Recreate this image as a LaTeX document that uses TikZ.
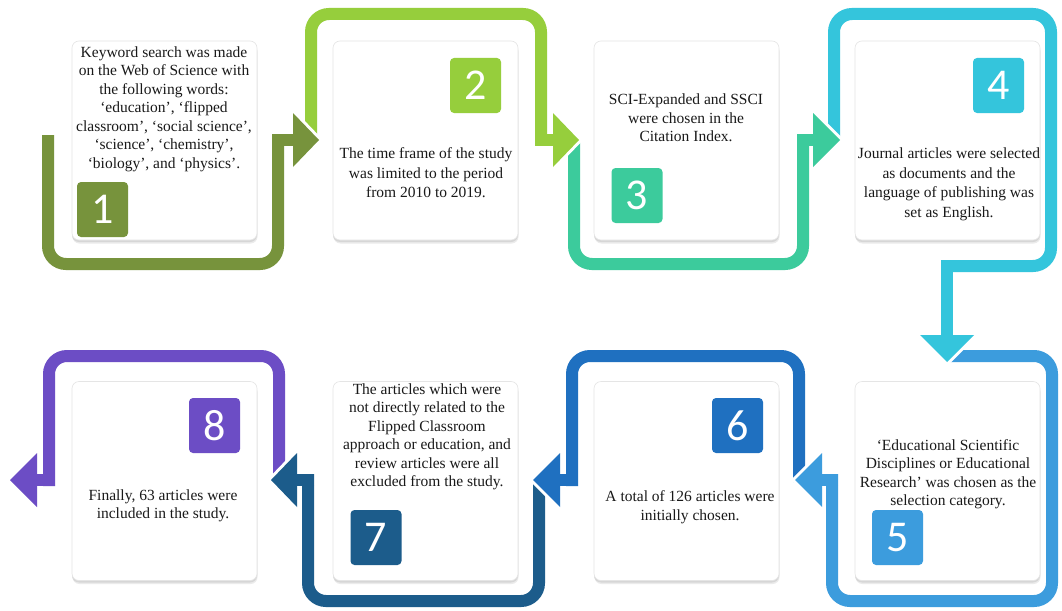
\documentclass[tikz,border=0pt]{standalone}
\usepackage{fontspec}
\setmainfont{Liberation Serif}
\newfontfamily\numfont{Carlito}

% step colours
\definecolor{c1}{HTML}{77933C}
\definecolor{c2}{HTML}{96CE3C}
\definecolor{c3}{HTML}{3CCB9C}
\definecolor{c4}{HTML}{34C5DC}
\definecolor{c5}{HTML}{3C9CDD}
\definecolor{c6}{HTML}{1F70C0}
\definecolor{c7}{HTML}{1C5C8B}
\definecolor{c8}{HTML}{6C4DC5}

\tikzset{
  card/.style={draw=black!10, line width=0.6pt, fill=white, rounded corners=7pt,
    minimum width=185pt, minimum height=199pt, inner sep=0pt,
    preaction={fill=black!8, transform canvas={xshift=0.5pt, yshift=-3.5pt}},
    preaction={fill=black!16, transform canvas={yshift=-2pt}}},
  numbox/.style={rounded corners=4pt, minimum width=51pt, minimum height=55pt,
    inner sep=0pt, text=white, font=\numfont\fontsize{44}{44}\selectfont},
  txt/.style={align=center, text=black!90, inner sep=0pt,
    font=\fontsize{15.5}{18.5}\selectfont},
  txtwide/.style={txt, font=\fontsize{15.5}{19.5}\selectfont},
  bar/.style={line width=12pt},
}

% one bent arrow: colour, loop path, stem path, head outline
\newcommand\flowarrow[4]{%
  \draw[white, line width=6pt, line join=round] #4 -- cycle;
  \draw[bar, #1, rounded corners=18pt] #2;
  \draw[bar, #1] #3;
  \fill[#1] #4 -- cycle;
}

\begin{document}
\begin{tikzpicture}[x=1pt, y=-1pt]
\useasboundingbox (0,0) rectangle (1062,610);
\fill[white] (0,0) rectangle (1062,610);

% arrows, last step first so every head sits over the next loop
\flowarrow{c8}{(279,482) -- (279,356) -- (49,356) -- (49,486)}{(55,480) -- (35,480)}{(37,453) -- (10,480) -- (37,507)}
\flowarrow{c7}{(539,482) -- (539,601) -- (308,601) -- (308,474)}{(314,480) -- (295,480)}{(297,453) -- (271,480) -- (297,507)}
\flowarrow{c6}{(799,482) -- (799,356) -- (572,356) -- (572,486)}{(578,480) -- (558,480)}{(560,453) -- (533,480) -- (560,507)}
\flowarrow{c5}{(950,356) -- (1052,356) -- (1052,601) -- (832,601) -- (832,474)}{(838,480) -- (820,480)}{(822,453) -- (795,480) -- (822,507)}
\flowarrow{c4}{(834,140) -- (834,14) -- (1051,14) -- (1051,266) -- (941,266)}{(947,260) -- (947,337)}{(920,335) -- (947,362) -- (974,335)}
\flowarrow{c3}{(574,140) -- (574,264) -- (803,264) -- (803,134)}{(797,140) -- (815,140)}{(813,113) -- (840,140) -- (813,167)}
\flowarrow{c2}{(311,140) -- (311,14) -- (541,14) -- (541,134)}{(535,140) -- (555,140)}{(553,113) -- (579,140) -- (553,167)}
\flowarrow{c1}{(48,135) -- (48,264) -- (278,264) -- (278,134)}{(272,140) -- (295,140)}{(293,113) -- (319,140) -- (293,167)}

% cards
\node[card] (k1) at (164.5,140.5) {};
\node[card] (k2) at (425.5,140.5) {};
\node[card] (k3) at (686.5,140.5) {};
\node[card] (k4) at (947.5,140.5) {};
\node[card] (k5) at (947.5,481) {};
\node[card] (k6) at (686.5,481) {};
\node[card] (k7) at (425.5,481) {};
\node[card] (k8) at (164.5,481) {};

% step numbers
\node[numbox, fill=c1] (n1) at (102.5,209.5) {1};
\node[numbox, fill=c2] (n2) at (475.5,85.5) {2};
\node[numbox, fill=c3] (n3) at (637,195.5) {3};
\node[numbox, fill=c4] (n4) at (998.5,85.5) {4};
\node[numbox, fill=c5] (n5) at (897.5,537.5) {5};
\node[numbox, fill=c6] (n6) at (737.5,425.5) {6};
\node[numbox, fill=c7] (n7) at (376,537.5) {7};
\node[numbox, fill=c8] (n8) at (214.5,425.5) {8};

% step texts
\node[txt] (t1) at (164,109) {Keyword search was made\\on the Web of Science with\\the following words:\\‘education’, ‘flipped\\classroom’, ‘social science’,\\‘science’, ‘chemistry’,\\‘biology’, and ‘physics’.};
\node[txtwide] (t2) at (426,173) {The time frame of the study\\was limited to the period\\from 2010 to 2019.};
\node[txt] (t3) at (686,118) {SCI-Expanded and SSCI\\were chosen in the\\Citation Index.};
\node[txtwide] (t4) at (949,184.5) {Journal articles were selected\\as documents and the\\language of publishing was\\set as English.};
\node[txt] (t5) at (948,474) {‘Educational Scientific\\Disciplines or Educational\\Research’ was chosen as the\\selection category.};
\node[txt] (t6) at (690,507) {A total of 126 articles were\\initially chosen.};
\node[txt] (t7) at (427,437) {The articles which were\\not directly related to the\\Flipped Classroom\\approach or education, and\\review articles were all\\excluded from the study.};
\node[txt] (t8) at (163,506) {Finally, 63 articles were\\included in the study.};
\end{tikzpicture}
\end{document}
